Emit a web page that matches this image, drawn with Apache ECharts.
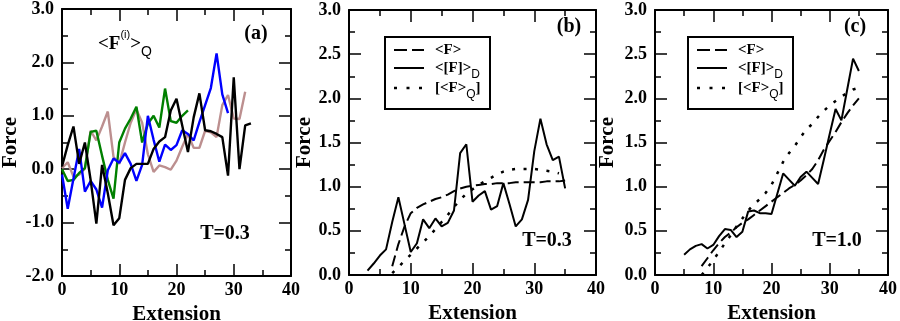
<!DOCTYPE html>
<html>
<head>
<meta charset="utf-8">
<script src="https://cdn.jsdelivr.net/npm/echarts@6/dist/echarts.min.js"></script>
<style>
  html, body { margin: 0; padding: 0; background: #fff; }
  #chart { width: 900px; height: 321px; }
</style>
</head>
<body>
<div id="chart"></div>
<script>
// (a) <F^(i)>_Q of single runs, T=0.3 -- all start at extension 0
const aBlack = [0.05, 0.45, 0.8, 0.1, 0.5, -0.2, -1.02, 0.08, -0.45, -1.05, -0.92, -0.2, 0.02, 0.1, 0.1, 0.1, 0.38, 0.52, 0.6, 1.1, 1.32, 0.82, 0.32, 0.97, 1.42, 0.73, 0.71, 0.66, 0.6, -0.12, 1.72, 0.0, 0.82, 0.86];
const aBlue = [-0.1, -0.74, -0.18, 0.38, -0.42, -0.22, -0.38, -0.72, -0.02, 0.2, 0.12, 0.3, 0.1, -0.22, 0.08, 1.0, 0.55, 0.14, 0.46, 0.36, 0.45, 0.73, 0.66, 0.54, 0.88, 1.2, 1.52, 2.17, 1.4, 1.05];
const aGreen = [0.0, -0.22, -0.2, -0.07, 0.02, 0.7, 0.72, 0.25, -0.2, -0.55, 0.5, 0.76, 0.95, 1.17, 0.5, 0.85, 1.0, 0.78, 1.51, 0.9, 0.87, 1.0, 1.1];
const aBrown = [0.02, 0.13, -0.14, -0.1, 0.01, 0.72, 0.54, 0.8, 1.08, 0.23, 0.1, 0.5, 0.87, 1.12, 0.87, 0.28, -0.05, 0.07, 0.04, -0.01, 0.16, 0.42, 0.66, 0.4, 0.4, 0.72, 0.69, 0.6, 1.2, 1.39, 0.95, 0.94, 1.45];

// (b) T=0.3
const bMeanStart = 7;
const bMean = [0.1, 0.35, 0.55, 0.7, 0.76, 0.8, 0.83, 0.86, 0.88, 0.91, 0.95, 0.98, 1.0, 1.01, 1.02, 1.03, 1.03, 1.04, 1.04, 1.04, 1.05, 1.05, 1.05, 1.05, 1.05, 1.06, 1.06, 1.06, 1.07];
const bDynStart = 3;
const bDyn = [0.05, 0.13, 0.22, 0.29, 0.6, 0.88, 0.57, 0.26, 0.36, 0.63, 0.53, 0.64, 0.55, 0.59, 0.73, 1.38, 1.48, 0.83, 0.9, 0.95, 0.74, 0.78, 1.04, 0.8, 0.55, 0.63, 0.85, 1.4, 1.77, 1.48, 1.3, 1.34, 0.98];
const bQuenchStart = 7;
const bQuench = [0.02, 0.09, 0.16, 0.23, 0.3, 0.37, 0.44, 0.52, 0.6, 0.68, 0.77, 0.85, 0.92, 0.97, 1.02, 1.06, 1.1, 1.14, 1.17, 1.19, 1.2, 1.2, 1.2, 1.2, 1.19, 1.18, 1.17, 1.15];

// (c) T=1.0
const cMeanStart = 8;
const cMean = [0.1, 0.19, 0.28, 0.36, 0.43, 0.48, 0.54, 0.59, 0.63, 0.68, 0.73, 0.78, 0.83, 0.88, 0.93, 0.98, 1.02, 1.07, 1.13, 1.2, 1.3, 1.42, 1.52, 1.62, 1.73, 1.83, 1.92, 2.0];
const cDynStart = 5;
const cDyn = [0.23, 0.29, 0.33, 0.35, 0.3, 0.34, 0.44, 0.52, 0.51, 0.43, 0.49, 0.72, 0.73, 0.7, 0.7, 0.69, 0.92, 1.15, 1.08, 1.01, 1.11, 1.17, 1.1, 1.03, 1.31, 1.6, 1.88, 1.75, 2.1, 2.45, 2.31];
const cQuenchStart = 8;
const cQuench = [0.0, 0.08, 0.17, 0.26, 0.36, 0.45, 0.55, 0.64, 0.73, 0.8, 0.86, 0.93, 1.02, 1.15, 1.28, 1.38, 1.46, 1.56, 1.65, 1.71, 1.79, 1.86, 1.92, 1.97, 2.02, 2.06, 2.1, 2.12];

const serif = '"Liberation Serif", "Times New Roman", serif';
const sans = '"Liberation Sans", Arial, sans-serif';
const dashed = [11, 5];
const dotted = [3, 8.5];

const grids = [
  { left: 62, top: 9, width: 229, height: 267, outerBoundsMode: 'none' },
  { left: 349, top: 10, width: 247, height: 265, outerBoundsMode: 'none' },
  { left: 655, top: 10, width: 233, height: 265, outerBoundsMode: 'none' },
];

const tick = { color: '#000', width: 1.5 };
const nameStyle = { color: '#000', fontFamily: serif, fontWeight: 'bold', fontSize: 21 };

function xAxis(g, pos) {
  const main = pos === 'bottom';
  return {
    type: 'value', gridIndex: g, position: pos, min: 0, max: 40, interval: 10,
    axisLine: { show: true, onZero: false, lineStyle: { color: '#000', width: 2 } },
    axisTick: { show: true, inside: true, length: 12, lineStyle: tick },
    minorTick: { show: true, splitNumber: 2, length: 6, lineStyle: tick },
    splitLine: { show: false },
    axisLabel: { show: main, margin: 5, color: '#000', fontFamily: serif, fontWeight: 'bold', fontSize: 18 },
    name: main ? 'Extension' : '', nameLocation: 'middle', nameGap: 23, nameTextStyle: nameStyle,
  };
}

function yAxis(g, pos, min, max, step, gap) {
  const main = pos === 'left';
  return {
    type: 'value', gridIndex: g, position: pos, min: min, max: max, interval: step,
    axisLine: { show: true, onZero: false, lineStyle: { color: '#000', width: 2 } },
    axisTick: { show: true, inside: true, length: 12, lineStyle: tick },
    minorTick: { show: true, splitNumber: 2, length: 6, lineStyle: tick },
    splitLine: { show: false },
    axisLabel: { show: main, margin: 8, color: '#000', fontFamily: serif, fontWeight: 'bold', fontSize: 18,
      formatter: v => v.toFixed(1) },
    name: main ? 'Force' : '', nameLocation: 'middle', nameGap: gap, nameTextStyle: nameStyle,
  };
}

function pairs(start, ys) {
  return ys.map((y, i) => [start + i, y]);
}

function line(g, data, color, width, type) {
  return {
    type: 'line', xAxisIndex: g * 2, yAxisIndex: g * 2, data: data,
    showSymbol: false, symbol: 'none', silent: true,
    lineStyle: { color: color, width: width, type: type || 'solid', cap: 'butt' },
  };
}

function text(x, y, str, size) {
  return { type: 'text', x: x, y: y, z: 50,
    style: { text: str, fill: '#000', font: 'bold ' + size + 'px ' + serif, align: 'center', verticalAlign: 'middle' } };
}

const legendRich = {
  m: { fontFamily: serif, fontWeight: 'bold', fontSize: 15, lineHeight: 26, fill: '#000' },
  s: { fontFamily: sans, fontSize: 12, lineHeight: 12, verticalAlign: 'bottom', fill: '#000' },
};

function legendBox(x0, y0) {
  const rows = [
    { dash: [13, 5], label: '{m|<F>}', dy: 13 },
    { dash: null, label: '{m|<[F]>}{s|D}', dy: 31 },
    { dash: [3, 9.5], label: '{m|[<F>}{s|Q}{m|]}', dy: 51 },
  ];
  const els = [{ type: 'rect', z: 40, shape: { x: x0, y: y0, width: 105, height: 72 },
    style: { fill: '#fff', stroke: '#000', lineWidth: 2 } }];
  rows.forEach(r => {
    els.push({ type: 'line', z: 41, shape: { x1: x0 + 9, y1: y0 + r.dy, x2: x0 + 39, y2: y0 + r.dy },
      style: { stroke: '#000', lineWidth: r.dash && r.dash[0] === 3 ? 2.5 : 2, lineDash: r.dash, lineCap: 'butt' } });
    els.push({ type: 'text', z: 41, x: x0 + 50, y: y0 + r.dy,
      style: { text: r.label, rich: legendRich, align: 'left', verticalAlign: 'middle' } });
  });
  return els;
}

const chart = echarts.init(document.getElementById('chart'), null, { renderer: 'canvas' });
chart.setOption({
  animation: false,
  backgroundColor: '#fff',
  grid: grids,
  xAxis: [xAxis(0, 'bottom'), xAxis(0, 'top'), xAxis(1, 'bottom'), xAxis(1, 'top'), xAxis(2, 'bottom'), xAxis(2, 'top')],
  yAxis: [
    yAxis(0, 'left', -2, 3, 1, 41), yAxis(0, 'right', -2, 3, 1, 0),
    yAxis(1, 'left', 0, 3, 0.5, 34), yAxis(1, 'right', 0, 3, 0.5, 0),
    yAxis(2, 'left', 0, 3, 0.5, 37), yAxis(2, 'right', 0, 3, 0.5, 0),
  ],
  series: [
    line(0, pairs(0, aBrown), '#BC8F8F', 2.4),
    line(0, pairs(0, aGreen), '#008000', 2.4),
    line(0, pairs(0, aBlue), '#0000FF', 2.4),
    line(0, pairs(0, aBlack), '#000', 2.4),
    line(1, pairs(bMeanStart, bMean), '#000', 2, dashed),
    line(1, pairs(bDynStart, bDyn), '#000', 2),
    line(1, pairs(bQuenchStart, bQuench), '#000', 2.5, dotted),
    line(2, pairs(cMeanStart, cMean), '#000', 2, dashed),
    line(2, pairs(cDynStart, cDyn), '#000', 2),
    line(2, pairs(cQuenchStart, cQuench), '#000', 2.5, dotted),
  ],
  graphic: [
    text(256, 34, '(a)', 20),
    text(225, 234, 'T=0.3', 20),
    text(569, 27, '(b)', 20),
    text(547, 241, 'T=0.3', 20),
    text(855, 27, '(c)', 20),
    text(837, 241, 'T=1.0', 20),
    { type: 'text', x: 98, y: 44, z: 50,
      style: { text: '{m|<F}{p|(i)}{m|>}{q|Q}', align: 'left', verticalAlign: 'middle',
        rich: {
          m: { fontFamily: serif, fontWeight: 'bold', fontSize: 19, lineHeight: 30, fill: '#000' },
          p: { fontFamily: sans, fontSize: 11, lineHeight: 16, verticalAlign: 'top', fill: '#000' },
          q: { fontFamily: sans, fontSize: 14, lineHeight: 14, verticalAlign: 'bottom', fill: '#000' },
        } } },
    ...legendBox(385, 37),
    ...legendBox(688, 37),
  ],
});
</script>
</body>
</html>
